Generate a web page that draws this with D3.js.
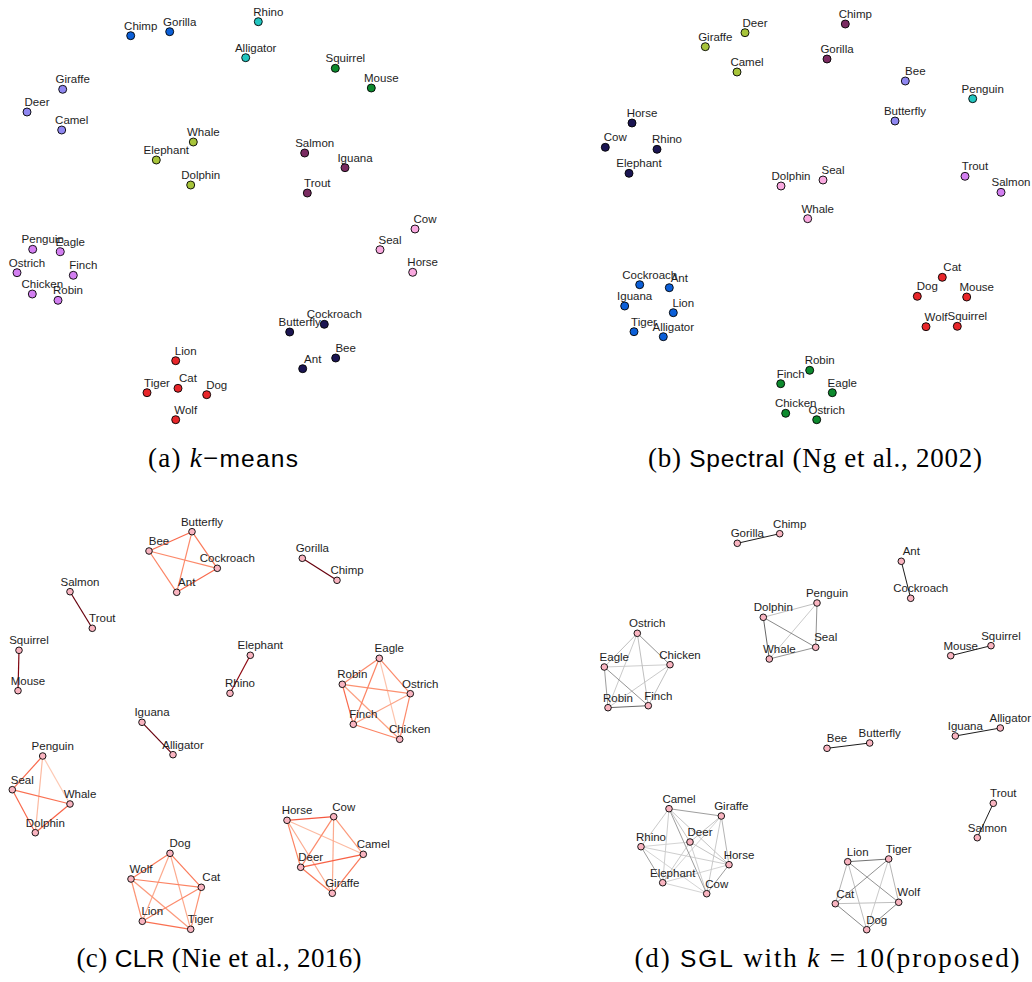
<!DOCTYPE html>
<html>
<head>
<meta charset="utf-8">
<script src="https://cdn.jsdelivr.net/npm/d3@7"></script>
<style>
  body { margin: 0; background: #fff; }
  .lbl { font-family: "Liberation Sans", Arial, sans-serif; font-size: 11.5px; fill: #1e1e1e; }
  .cap { font-family: "Liberation Serif", serif; font-size: 27px; fill: #000; }
  .cap .sans { font-family: "Liberation Sans", sans-serif; font-size: 24.5px; }
</style>
</head>
<body>
<div id="chart"></div>
<script>
// node positions, in panel units (x right, y down)
const kmeansPos = [
  ["Chimp",130.7,35.7],["Gorilla",169.7,31.7],["Rhino",258.3,21.7],["Alligator",245.7,57.7],
  ["Squirrel",335.3,68.3],["Mouse",371.3,88],["Giraffe",62.7,89.3],["Deer",27,112],["Camel",61.7,130],
  ["Whale",193.3,142],["Elephant",156.3,160],["Dolphin",190.7,185],["Salmon",304.7,153],["Iguana",345,167.7],
  ["Trout",307.3,193],["Cow",415,229],["Seal",380,249.7],["Horse",412.7,272.3],["Penguin",32.7,249.3],
  ["Eagle",60.3,251.7],["Ostrich",17,272.7],["Finch",73.3,275.3],["Chicken",32.3,294],["Robin",58,300.3],
  ["Cockroach",324.3,324.3],["Butterfly",289.7,332],["Bee",335.7,358],["Ant",302.7,368.7],
  ["Lion",175.7,360.7],["Cat",178,388.3],["Tiger",147,392.7],["Dog",206.7,394.7],["Wolf",175.7,419.7]
];
const spectralPos = [
  ["Chimp",285.3,24],["Deer",185,32.7],["Giraffe",145.3,46.7],["Gorilla",267,59],["Camel",177,72],
  ["Bee",345.3,81],["Penguin",412.7,98.7],["Butterfly",335,121],["Horse",72,123],["Cow",45.3,147.3],
  ["Rhino",97,149.3],["Elephant",69,173.3],["Trout",405,176.3],["Salmon",441,192.3],["Dolphin",221,186],
  ["Seal",263,180],["Whale",247.7,218.7],["Cockroach",79.7,284.7],["Ant",109.3,287.7],["Iguana",64.7,306],
  ["Lion",113.3,312.7],["Tiger",74,331.7],["Alligator",103.3,336.7],["Cat",382.3,277.3],["Dog",357.3,296.3],
  ["Mouse",406.7,297],["Wolf",366,326.7],["Squirrel",397.3,326.3],["Robin",249.7,370.3],["Finch",220.7,383.7],
  ["Eagle",272.3,392.7],["Chicken",225.7,413.3],["Ostrich",256.7,419.7]
];
const clrPos = [
  ["Butterfly",192,31.7],["Bee",149,51],["Cockroach",217.3,68.3],["Ant",176.7,92.3],["Gorilla",302.3,58.3],
  ["Chimp",337,80.3],["Salmon",70,91.7],["Trout",92.3,128.3],["Squirrel",19,150.3],["Mouse",18,190.7],
  ["Elephant",250.3,155.3],["Rhino",230,193.3],["Eagle",379.3,158.3],["Robin",342.3,184.3],["Ostrich",410.3,193.7],
  ["Finch",353.3,224.3],["Chicken",399.7,239.3],["Iguana",142,222.3],["Alligator",173,254.7],["Penguin",42.7,256],
  ["Seal",12.3,289.7],["Whale",70,304],["Dolphin",35.3,332.7],["Horse",287,320.3],["Cow",333.7,316.7],
  ["Camel",363.3,354.3],["Deer",300.7,367.3],["Giraffe",332.3,393.3],["Dog",170,353.3],["Wolf",131,379],
  ["Cat",201.3,387.3],["Lion",142.3,421.3],["Tiger",190.7,429.3]
];
const sglPos = [
  ["Chimp",199.7,33.7],["Gorilla",157.3,43.3],["Ant",321.3,61.3],["Cockroach",330.7,98.3],["Penguin",237,103],
  ["Dolphin",183.3,117.3],["Seal",235.7,147.3],["Whale",189.3,159],["Mouse",370.7,155.7],["Squirrel",411,145.7],
  ["Ostrich",57.3,133.3],["Eagle",24.3,167],["Chicken",90,164.7],["Robin",28,207.7],["Finch",68.3,205.7],
  ["Bee",247,248.3],["Butterfly",289.7,243],["Iguana",375.3,236],["Alligator",420.3,228],["Trout",413.3,303.3],
  ["Salmon",397.3,337.7],["Camel",89,308.7],["Giraffe",141.3,316],["Rhino",61,346.7],["Deer",110,342],
  ["Horse",149,364.7],["Elephant",82.7,382.7],["Cow",126.7,393.7],["Lion",267.7,361.7],["Tiger",308.7,359],
  ["Cat",255.3,403.7],["Wolf",318.7,402.3],["Dog",286.7,429.7]
];

// cluster memberships
const kmeansClusters = [
  ["Chimp","Gorilla"], ["Rhino","Alligator"], ["Squirrel","Mouse"], ["Giraffe","Deer","Camel"],
  ["Whale","Elephant","Dolphin"], ["Salmon","Iguana","Trout"], ["Cow","Seal","Horse"],
  ["Penguin","Eagle","Ostrich","Finch","Chicken","Robin"], ["Cockroach","Butterfly","Bee","Ant"],
  ["Lion","Cat","Tiger","Dog","Wolf"]
];
const spectralClusters = [
  ["Cockroach","Ant","Iguana","Lion","Tiger","Alligator"], ["Penguin"], ["Robin","Finch","Eagle","Chicken","Ostrich"],
  ["Bee","Butterfly"], ["Giraffe","Deer","Camel"], ["Chimp","Gorilla"], ["Dolphin","Seal","Whale"],
  ["Trout","Salmon"], ["Horse","Cow","Rhino","Elephant"], ["Cat","Dog","Mouse","Wolf","Squirrel"]
];
// cluster order above -> palette slot
const clusterKeys = ["blue","cyan","green","lavender","olive","plum","pink","violet","navy","red"];

// edge weights (0..1) read from the edge shading
const clrEdges = [
  ["Gorilla","Chimp",1],["Salmon","Trout",1],["Squirrel","Mouse",0.95],["Elephant","Rhino",0.92],["Iguana","Alligator",1],
  ["Bee","Butterfly",0.5],["Butterfly","Cockroach",0.45],["Cockroach","Ant",0.5],["Bee","Ant",0.42],["Bee","Cockroach",0.4],["Butterfly","Ant",0.4],
  ["Eagle","Robin",0.4],["Eagle","Ostrich",0.4],["Eagle","Finch",0.42],["Eagle","Chicken",0.22],["Robin","Ostrich",0.38],
  ["Robin","Finch",0.5],["Robin","Chicken",0.33],["Ostrich","Finch",0.32],["Ostrich","Chicken",0.4],["Finch","Chicken",0.42],
  ["Penguin","Seal",0.5],["Penguin","Whale",0.2],["Penguin","Dolphin",0.25],["Seal","Whale",0.48],["Seal","Dolphin",0.5],["Whale","Dolphin",0.52],
  ["Dog","Wolf",0.45],["Dog","Cat",0.45],["Dog","Lion",0.3],["Dog","Tiger",0.3],["Wolf","Cat",0.42],
  ["Wolf","Lion",0.38],["Wolf","Tiger",0.35],["Cat","Lion",0.4],["Cat","Tiger",0.38],["Lion","Tiger",0.48],
  ["Horse","Cow",0.55],["Horse","Deer",0.42],["Horse","Camel",0.25],["Horse","Giraffe",0.3],["Cow","Deer",0.4],
  ["Cow","Giraffe",0.3],["Cow","Camel",0.35],["Deer","Camel",0.52],["Deer","Giraffe",0.45],["Camel","Giraffe",0.45]
];
const sglEdges = [
  ["Gorilla","Chimp",1],["Ant","Cockroach",1],["Mouse","Squirrel",1],["Bee","Butterfly",1],["Iguana","Alligator",1],["Trout","Salmon",1],
  ["Dolphin","Whale",0.65],["Dolphin","Seal",0.5],["Penguin","Seal",0.45],["Whale","Seal",0.45],["Dolphin","Penguin",0.25],["Whale","Penguin",0.2],
  ["Ostrich","Chicken",0.45],["Eagle","Robin",0.4],["Robin","Finch",0.65],["Eagle","Finch",0.45],["Ostrich","Eagle",0.25],
  ["Ostrich","Robin",0.2],["Ostrich","Finch",0.25],["Eagle","Chicken",0.18],["Chicken","Robin",0.2],["Chicken","Finch",0.25],
  ["Camel","Giraffe",0.4],["Camel","Rhino",0.2],["Camel","Deer",0.22],["Camel","Elephant",0.18],["Camel","Cow",0.4],["Camel","Horse",0.22],
  ["Giraffe","Deer",0.22],["Giraffe","Horse",0.3],["Giraffe","Elephant",0.15],["Giraffe","Cow",0.2],["Rhino","Deer",0.15],
  ["Rhino","Elephant",0.4],["Rhino","Horse",0.18],["Rhino","Cow",0.15],["Deer","Horse",0.22],["Deer","Elephant",0.18],
  ["Deer","Cow",0.18],["Horse","Cow",0.4],["Horse","Elephant",0.15],["Elephant","Cow",0.15],
  ["Lion","Tiger",0.6],["Lion","Cat",0.3],["Lion","Wolf",0.45],["Lion","Dog",0.25],["Tiger","Cat",0.45],
  ["Tiger","Wolf",0.3],["Tiger","Dog",0.2],["Cat","Wolf",0.25],["Cat","Dog",0.5],["Wolf","Dog",0.5]
];

const palette = d3.scaleOrdinal()
  .domain(clusterKeys)
  .range(["#0b5fd8","#22c6c0","#0d8a2e","#8f87f0","#a7c43a","#7a2b61","#f9a9df","#d37ff1","#1b1552","#e8262a"]);
const redEdge = d3.scaleSequential(d3.interpolateReds).domain([0, 1]);
const greyEdge = d3.scaleLinear().domain([0, 1]).range(["#f5f5f5", "#1c1c1c"]);

const W = 1032, H = 982;
const svg = d3.select("#chart").append("svg")
  .attr("width", W).attr("height", H)
  .style("background", "#fff");

function clusterOf(groups) {
  const m = new Map();
  groups.forEach((g, i) => g.forEach(n => m.set(n, clusterKeys[i])));
  return m;
}

function drawPanel(opt) {
  const x = d3.scaleLinear().domain([0, 100]).range([opt.left, opt.left + 100]);
  const y = d3.scaleLinear().domain([0, 100]).range([opt.top, opt.top + 100]);
  const pos = new Map(opt.nodes.map(d => [d[0], d]));
  const g = svg.append("g");

  if (opt.edges) {
    g.append("g").selectAll("line")
      .data(opt.edges.slice().sort((a, b) => a[2] - b[2]))
      .join("line")
      .attr("x1", d => x(pos.get(d[0])[1]))
      .attr("y1", d => y(pos.get(d[0])[2]))
      .attr("x2", d => x(pos.get(d[1])[1]))
      .attr("y2", d => y(pos.get(d[1])[2]))
      .attr("stroke", d => opt.edgeColor(d[2]))
      .attr("stroke-width", opt.edgeWidth);
  }

  g.append("g").selectAll("circle")
    .data(opt.nodes)
    .join("circle")
    .attr("cx", d => x(d[1]))
    .attr("cy", d => y(d[2]))
    .attr("r", opt.r)
    .attr("fill", d => opt.fill(d[0]))
    .attr("stroke", "#000")
    .attr("stroke-width", 0.9);

  g.append("g").selectAll("text")
    .data(opt.nodes)
    .join("text")
    .attr("class", "lbl")
    .attr("x", d => x(d[1]) + 10)
    .attr("y", d => y(d[2]) - 6)
    .attr("text-anchor", "middle")
    .text(d => d[0]);
}

const kmC = clusterOf(kmeansClusters);
const spC = clusterOf(spectralClusters);

drawPanel({ left: 0, top: 0, nodes: kmeansPos, r: 4, fill: n => palette(kmC.get(n)) });
drawPanel({ left: 560, top: 0, nodes: spectralPos, r: 4, fill: n => palette(spC.get(n)) });
drawPanel({ left: 0, top: 500, nodes: clrPos, r: 3.3, fill: () => "#f9b4c0",
  edges: clrEdges, edgeColor: redEdge, edgeWidth: 1.2 });
drawPanel({ left: 580, top: 500, nodes: sglPos, r: 3.3, fill: () => "#f9b4c0",
  edges: sglEdges, edgeColor: greyEdge, edgeWidth: 1 });

// sub-captions
const captions = [
  { cx: 223, y: 467, len: 150, parts: [["(a) ", ""], ["k", "it"], ["\u2212", ""], ["means", "sans"]] },
  { cx: 815, y: 467, len: 334, parts: [["(b) ", ""], ["Spectral", "sans"], [" (Ng et al., 2002)", ""]] },
  { cx: 219, y: 967, len: 285, parts: [["(c) ", ""], ["CLR", "sans"], [" (Nie et al., 2016)", ""]] },
  { cx: 827, y: 967, len: 385, parts: [["(d) ", ""], ["SGL", "sans"], [" with ", ""], ["k", "it"], [" = 10(proposed)", ""]] }
];
captions.forEach(c => {
  const t = svg.append("text").attr("class", "cap")
    .attr("x", c.cx).attr("y", c.y)
    .attr("text-anchor", "middle")
    .attr("textLength", c.len).attr("lengthAdjust", "spacing")
    .style("white-space", "pre");
  c.parts.forEach(p => {
    const s = t.append("tspan").text(p[0]);
    if (p[1] === "sans") s.attr("class", "sans");
    if (p[1] === "it") s.style("font-style", "italic");
  });
});
</script>
</body>
</html>
